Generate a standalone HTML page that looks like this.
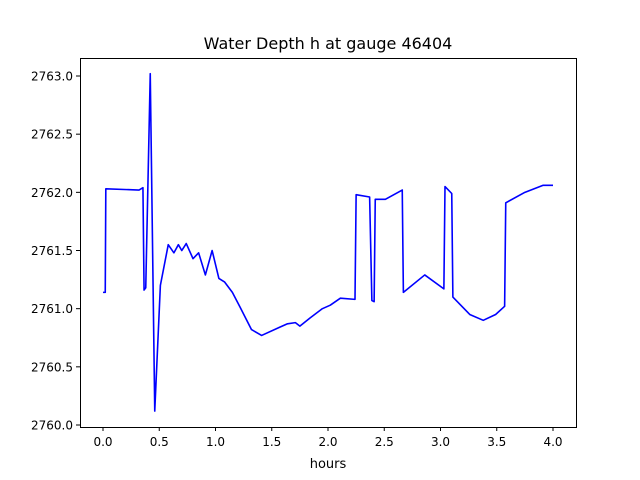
<!DOCTYPE html>
<html><head><meta charset="utf-8"><style>
body{margin:0;background:#fff;}
svg{display:block;font-family:"DejaVu Sans","Liberation Sans",sans-serif;}
</style></head><body>
<svg id="chart" width="640" height="480">
<rect width="640" height="480" fill="#fff"/>
<text x="328" y="49" font-size="16" text-anchor="middle">Water Depth h at gauge 46404</text>
<text x="328" y="468" font-size="13" text-anchor="middle">hours</text>
<g id="plot"></g>
<rect x="80.5" y="58.5" width="496" height="369" fill="none" stroke="#000" stroke-width="1"/>
</svg>
<script>
const hours=[0,0.02,0.025,0.32,0.355,0.365,0.38,0.42,0.46,0.51,0.58,0.63,0.67,0.70,0.74,0.80,0.85,0.91,0.97,1.03,1.08,1.15,1.22,1.32,1.41,1.57,1.64,1.71,1.75,1.84,1.95,2.02,2.11,2.24,2.25,2.37,2.39,2.41,2.42,2.51,2.66,2.67,2.86,3.03,3.04,3.10,3.11,3.26,3.38,3.49,3.57,3.58,3.75,3.91,4.0];
const depth=[2761.14,2761.14,2762.03,2762.02,2762.04,2761.16,2761.18,2763.02,2760.12,2761.2,2761.55,2761.48,2761.55,2761.5,2761.56,2761.43,2761.48,2761.29,2761.5,2761.26,2761.23,2761.14,2761.01,2760.82,2760.77,2760.84,2760.87,2760.88,2760.85,2760.92,2761.0,2761.03,2761.09,2761.08,2761.98,2761.96,2761.07,2761.06,2761.94,2761.94,2762.02,2761.14,2761.29,2761.17,2762.05,2761.99,2761.10,2760.95,2760.90,2760.95,2761.02,2761.91,2762.0,2762.06,2762.06];
const xTicks=[0,0.5,1,1.5,2,2.5,3,3.5,4];
const xTickLabels=["0.0","0.5","1.0","1.5","2.0","2.5","3.0","3.5","4.0"];
const yTicks=[2760,2760.5,2761,2761.5,2762,2762.5,2763];
const yTickLabels=["2760.0","2760.5","2761.0","2761.5","2762.0","2762.5","2763.0"];
const NS="http://www.w3.org/2000/svg";
const xs=h=>103+h*112.5;
const ys=v=>425-(v-2760)*116.33;
const g=document.getElementById('plot');
function el(t,a){const e=document.createElementNS(NS,t);for(const k in a)e.setAttribute(k,a[k]);g.appendChild(e);return e;}
xTicks.forEach((t,i)=>{
 const l=el('line',{x1:xs(t),x2:xs(t),y1:427,y2:431,stroke:'#000'});
 
 
 const tx=el('text',{x:xs(t),y:446,'font-size':12,'text-anchor':'middle'});
 tx.textContent=xTickLabels[i];
 
 
});
yTicks.forEach((t,i)=>{
 const l=el('line',{x1:76,x2:80,y1:ys(t),y2:ys(t),stroke:'#000'});
 
 
 const tx=el('text',{x:73,y:ys(t)+4.5,'font-size':12,'text-anchor':'end'});
 tx.textContent=yTickLabels[i];
 
 
});
const p=el('polyline',{points:hours.map((h,i)=>xs(h)+','+ys(depth[i])).join(' '),fill:'none',stroke:'#0000ff','stroke-width':1.6,'stroke-linejoin':'round'});


</script>
</body></html>
